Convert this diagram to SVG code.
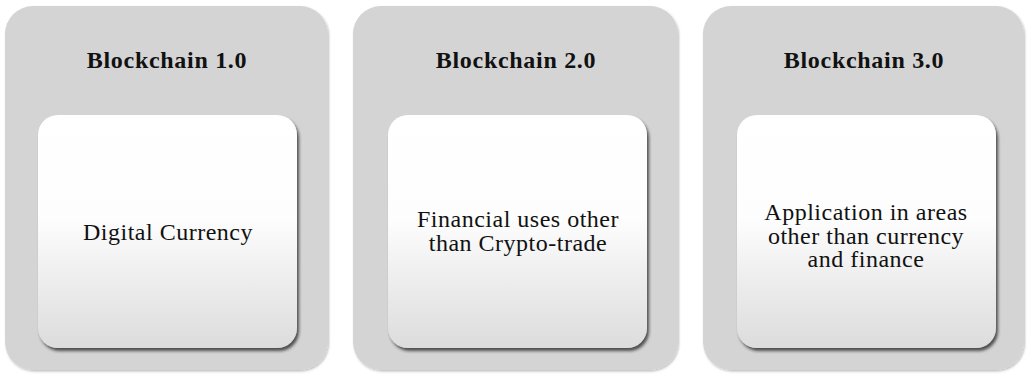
<svg xmlns="http://www.w3.org/2000/svg" width="1027" height="375" viewBox="0 0 1027 375">
  <style>
    .panel { fill: #d4d4d4; }
    .card { fill: url(#cardFill); }
    .title { font-family: "Liberation Serif", "Times New Roman", serif; font-weight: bold; font-size: 24px; letter-spacing: 0.7px; fill: #111; text-anchor: middle; }
    .body { font-family: "Liberation Serif", "Times New Roman", serif; font-size: 24px; letter-spacing: 0.5px; fill: #111; text-anchor: middle; }
  </style>
  <defs>
    <linearGradient id="cardFill" x1="0" y1="0" x2="0" y2="1">
      <stop offset="0" stop-color="#ffffff"/>
      <stop offset="0.45" stop-color="#fdfdfd"/>
      <stop offset="1" stop-color="#dcdcdc"/>
    </linearGradient>
    <filter id="panelShadow" x="-5%" y="-5%" width="110%" height="110%">
      <feDropShadow dx="1" dy="1.5" stdDeviation="1" flood-color="#000" flood-opacity="0.25"/>
    </filter>
    <filter id="cardShadow" x="-5%" y="-5%" width="112%" height="112%">
      <feDropShadow dx="2" dy="3" stdDeviation="1.4" flood-color="#222" flood-opacity="0.75"/>
    </filter>
  </defs>

  <rect width="1027" height="375" fill="#ffffff"/>

  <g id="blockchain-1">
    <rect class="panel" x="5" y="6" width="323" height="364" rx="28" filter="url(#panelShadow)"/>
    <text class="title" x="167" y="68">Blockchain 1.0</text>
    <rect class="card" x="38" y="115" width="259" height="233" rx="20" filter="url(#cardShadow)"/>
    <text class="body" x="168" y="240">Digital Currency</text>
  </g>

  <g id="blockchain-2">
    <rect class="panel" x="353" y="6" width="325" height="364" rx="28" filter="url(#panelShadow)"/>
    <text class="title" x="516" y="68">Blockchain 2.0</text>
    <rect class="card" x="388" y="115" width="259" height="233" rx="20" filter="url(#cardShadow)"/>
    <text class="body" x="518" y="227">Financial uses other</text>
    <text class="body" x="518" y="251">than Crypto-trade</text>
  </g>

  <g id="blockchain-3">
    <rect class="panel" x="703" y="6" width="321" height="364" rx="28" filter="url(#panelShadow)"/>
    <text class="title" x="864" y="68">Blockchain 3.0</text>
    <rect class="card" x="737" y="115" width="259" height="233" rx="20" filter="url(#cardShadow)"/>
    <text class="body" x="866" y="220">Application in areas</text>
    <text class="body" x="866" y="243.5">other than currency</text>
    <text class="body" x="866" y="267">and finance</text>
  </g>

  <g id="connectors"/>
</svg>
